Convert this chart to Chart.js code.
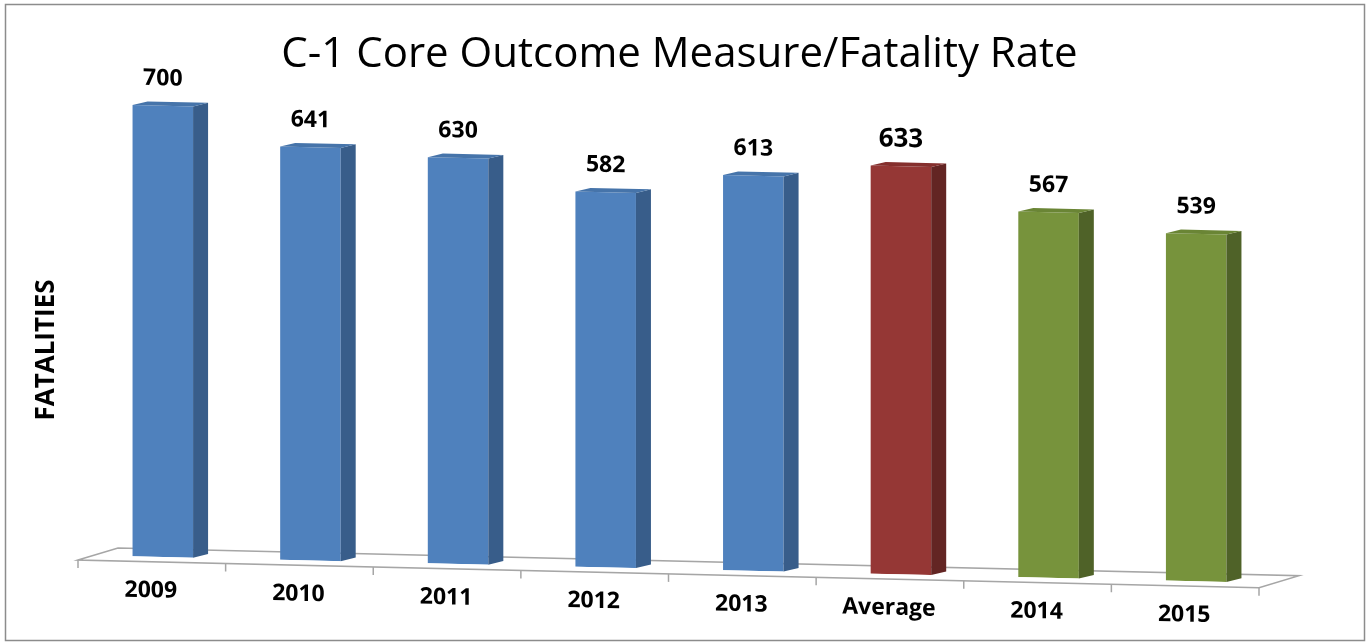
<!DOCTYPE html>
<html>
<head>
<meta charset="utf-8">
<script src="https://cdn.jsdelivr.net/npm/chart.js@4/dist/chart.umd.min.js"></script>
<style>
    html, body { margin: 0; padding: 0; background: #fff; }
    #box { width: 1369px; height: 644px; }
</style>
</head>
<body>
<div id="box"><canvas id="fatalityChart"></canvas></div>
<script>
const categories = ["2009", "2010", "2011", "2012", "2013", "Average", "2014", "2015"];
const fatalities = [700, 641, 630, 582, 613, 633, 567, 539];

const frontColors = ["#4f81bd", "#4f81bd", "#4f81bd", "#4f81bd", "#4f81bd", "#953735", "#77933c", "#77933c"];
const sideColors = ["#385d8a", "#385d8a", "#385d8a", "#385d8a", "#385d8a", "#632523", "#4f6228", "#4f6228"];
const topColors = ["#4674aa", "#4674aa", "#4674aa", "#4674aa", "#4674aa", "#852f2d", "#6a8535", "#6a8535"];

const SHEAR = 0.0235;   // floor tilts down to the right
const DEPTH_X = 15, DEPTH_Y = -4;

function shear(chart) {
    const x0 = chart.scales.x.getPixelForValue(0);
    chart.ctx.transform(1, SHEAR, 0, 1, 0, -SHEAR * x0);
}

const perspective = {
    id: 'perspective',
    beforeDraw(chart) {
        const ctx = chart.ctx;
        ctx.save();
        ctx.strokeStyle = '#8c8c8c';
        ctx.lineWidth = 1.5;
        ctx.strokeRect(5.5, 4.5, 1359, 636);

        // y axis title
        ctx.fillStyle = '#000';
        ctx.font = 'bold 26px "Open Sans"';
        ctx.textAlign = 'center';
        ctx.textBaseline = 'middle';
        ctx.translate(chart.chartArea.left - 42, chart.chartArea.bottom - 207);
        ctx.rotate(-Math.PI / 2);
        ctx.fillText('FATALITIES', 0, 0);
        ctx.restore();
    },
    beforeDatasetsDraw(chart) {
        const ctx = chart.ctx;
        const area = chart.chartArea;
        ctx.save();
        shear(chart);

        // floor
        const fl = area.left - 11, fr = area.right - 11, fy = area.bottom + 5;
        ctx.strokeStyle = '#a6a6a6';
        ctx.lineWidth = 1.5;
        ctx.beginPath();
        ctx.moveTo(fl, fy);
        ctx.lineTo(fl + 40, fy - 13);
        ctx.lineTo(fr + 40, fy - 13);
        ctx.lineTo(fr, fy);
        ctx.closePath();
        ctx.stroke();
        const step = (area.right - area.left) / categories.length;
        ctx.beginPath();
        for (let i = 0; i <= categories.length; i++) {
            ctx.moveTo(fl + i * step, fy);
            ctx.lineTo(fl + i * step, fy + 8);
        }
        ctx.stroke();
    },
    afterDatasetsDraw(chart) {
        const ctx = chart.ctx;
        const meta = chart.getDatasetMeta(0);
        meta.data.forEach(function (bar, i) {
            const p = bar.getProps(['x', 'y', 'base', 'width'], true);
            const xl = p.x - p.width / 2, xr = p.x + p.width / 2;
            // side face
            ctx.fillStyle = sideColors[i];
            ctx.beginPath();
            ctx.moveTo(xr, p.y);
            ctx.lineTo(xr + DEPTH_X, p.y + DEPTH_Y);
            ctx.lineTo(xr + DEPTH_X, p.base + DEPTH_Y);
            ctx.lineTo(xr, p.base);
            ctx.closePath();
            ctx.fill();
            // top face
            ctx.fillStyle = topColors[i];
            ctx.beginPath();
            ctx.moveTo(xl, p.y);
            ctx.lineTo(xl + DEPTH_X, p.y + DEPTH_Y);
            ctx.lineTo(xr + DEPTH_X, p.y + DEPTH_Y);
            ctx.lineTo(xr, p.y);
            ctx.closePath();
            ctx.fill();

            // value label
            ctx.fillStyle = '#000';
            ctx.textAlign = 'center';
            ctx.textBaseline = 'middle';
            ctx.font = (categories[i] === 'Average' ? 'bold 26px' : 'bold 23px') + ' "Open Sans"';
            ctx.fillText(fatalities[i], p.x, p.y - 27);

            // category label
            ctx.font = 'bold 23px "Open Sans"';
            ctx.fillText(categories[i], p.x - 12, p.base + 34);
        });
        ctx.restore();
    }
};

new Chart(document.getElementById('fatalityChart'), {
    type: 'bar',
    data: {
        labels: categories,
        datasets: [{
            label: 'Fatalities',
            data: fatalities,
            backgroundColor: frontColors,
            borderWidth: 0,
            barPercentage: 0.41,
            categoryPercentage: 1
        }]
    },
    options: {
        responsive: true,
        maintainAspectRatio: false,
        animation: false,
        layout: {
            padding: { left: 89, right: 99, top: 0, bottom: 87 }
        },
        scales: {
            x: { display: false },
            y: { display: false, min: 0, max: 740 }
        },
        plugins: {
            legend: { display: false },
            tooltip: { enabled: false },
            title: {
                display: true,
                text: 'C-1 Core Outcome Measure/Fatality Rate',
                color: '#000',
                font: { family: '"Open Sans", sans-serif', size: 42, weight: 'normal', lineHeight: 1 },
                padding: { top: 34, bottom: 4 }
            }
        }
    },
    plugins: [perspective]
});
</script>
</body>
</html>
